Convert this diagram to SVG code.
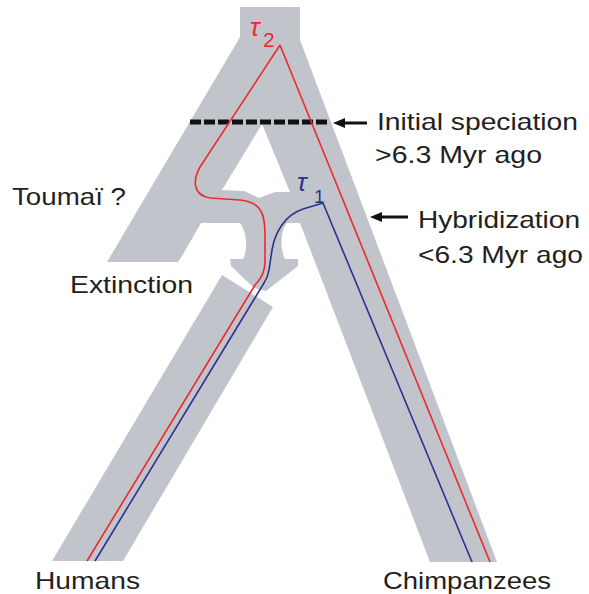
<svg xmlns="http://www.w3.org/2000/svg" width="589" height="594" viewBox="0 0 589 594">
<style>
.band{fill:#c1c5cb;stroke:none}
.red{fill:none;stroke:#ec2a2e;stroke-width:1.6;stroke-linejoin:round}
.blue{fill:none;stroke:#2e3192;stroke-width:1.6;stroke-linejoin:round}
.lbl{font-family:"Liberation Sans",Arial,sans-serif;font-size:24px;fill:#231f20}
.arr{stroke:#111;stroke-width:3;fill:none}
.dash{stroke:#111;stroke-width:5;stroke-dasharray:11 3;fill:none}
.tau{font-family:"Liberation Sans",Arial,sans-serif;font-style:italic}
.sub{font-family:"Liberation Sans",Arial,sans-serif}
</style>
<defs>
<marker id="ah" viewBox="0 0 12 10" refX="2" refY="5" markerWidth="12" markerHeight="10" markerUnits="userSpaceOnUse" orient="auto">
<path d="M0,0 L12,5 L0,10 Z" fill="#111"/>
</marker>
</defs>
<rect width="589" height="594" fill="#fff"/>
<g id="ancestral-tree">
<path class="band" fill-rule="evenodd" d="M240,7 H300 V40 L497,562 H430 L300,223 H287 C280,230 280,250 285,259 L298,259 L298,266 L266,291 L254,288 L231,266 L230,259 L243,259 C248,250 247,232 240,223 L201,223 L182,256 L178,262 L107,262 L240,37 Z M262,124 L290,192 L275,192 L259,198 L244,191 L222,190 Z"/>
</g>
<g id="human-branch">
<path class="band" d="M222,275 L273,307 L123,561 L52,561 Z"/>
</g>
<g id="connectors">
<line class="dash" x1="190" y1="122" x2="329" y2="122"/>
<line class="arr" x1="367" y1="123" x2="343" y2="123" marker-end="url(#ah)"/>
<line class="arr" x1="408" y1="217" x2="380" y2="217" marker-end="url(#ah)"/>
</g>
<g id="lineage-tau2">
<path class="red" d="M280,45 L200,167 C193,180 192,195 210,198 L240,200 C262,202 265,215 265,235 L265,262 C265,272 260,280 255,285 L87,561"/>
<path class="red" d="M280,45 L490,562"/>
<text class="tau" fill="#ec2a2e" x="250" y="36" font-size="26">τ</text>
<text class="sub" fill="#ec2a2e" x="263" y="47" font-size="21">2</text>
</g>
<g id="lineage-tau1">
<path class="blue" d="M323,203 L303,209 C285,215 275,232 272,250 L269,270 C268,276 266,280 264,283 L95,561"/>
<path class="blue" d="M323,203 L472,562"/>
<text class="tau" fill="#2e3192" x="297" y="191" font-size="26">τ</text>
<text class="sub" fill="#2e3192" x="314" y="203" font-size="19">1</text>
</g>
<g id="labels">
<text class="lbl" x="377" y="130" textLength="201" lengthAdjust="spacingAndGlyphs">Initial speciation</text>
<text class="lbl" x="375" y="163" textLength="167" lengthAdjust="spacingAndGlyphs">&gt;6.3 Myr ago</text>
<text class="lbl" x="418" y="228" textLength="162" lengthAdjust="spacingAndGlyphs">Hybridization</text>
<text class="lbl" x="418" y="263" textLength="165" lengthAdjust="spacingAndGlyphs">&lt;6.3 Myr ago</text>
<text class="lbl" x="12" y="205" textLength="114" lengthAdjust="spacingAndGlyphs">Toumaï ?</text>
<text class="lbl" x="70" y="293" textLength="123" lengthAdjust="spacingAndGlyphs">Extinction</text>
<text class="lbl" x="35" y="589" textLength="105" lengthAdjust="spacingAndGlyphs">Humans</text>
<text class="lbl" x="383" y="589" textLength="168" lengthAdjust="spacingAndGlyphs">Chimpanzees</text>
</g>
</svg>
